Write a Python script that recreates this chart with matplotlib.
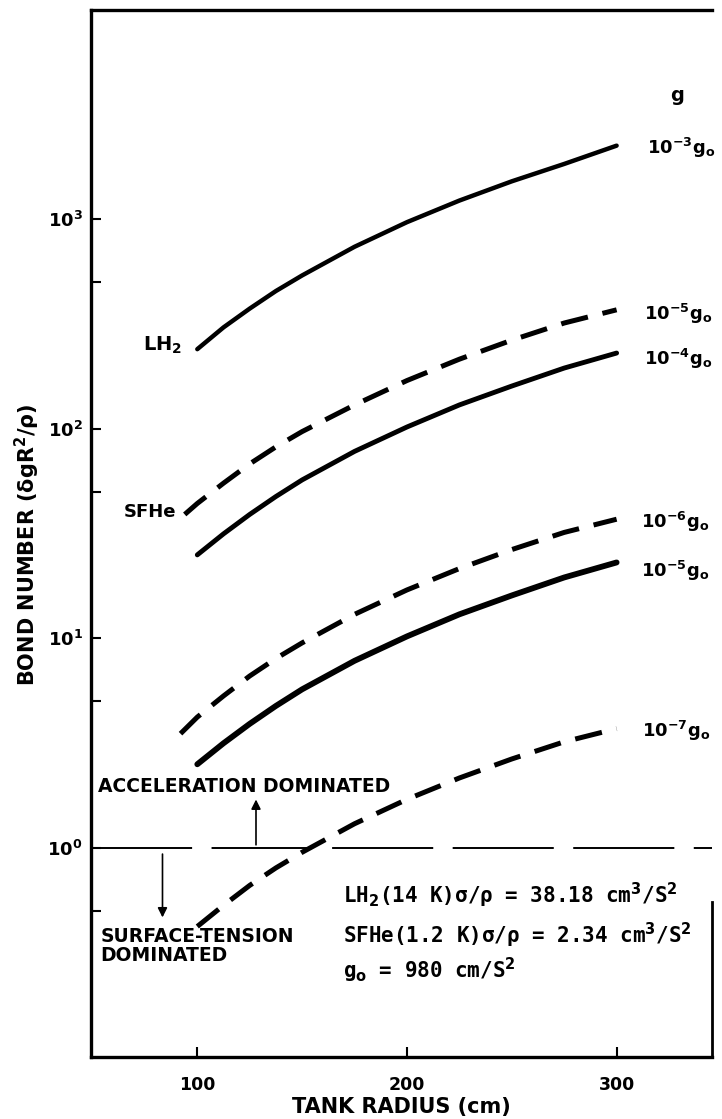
import matplotlib
matplotlib.use("Agg")
import matplotlib.pyplot as plt
from matplotlib.ticker import FixedLocator, NullFormatter

plt.rcParams['font.family'] = ['DejaVu Sans']
plt.rcParams['mathtext.default'] = 'bf'

# ---- data ----
r_lh2 = [100, 112.5, 125, 137.5, 150, 175, 200, 225, 250, 275, 300]
lh2_1e3 = [240, 305, 375, 455, 540, 740, 970, 1230, 1520, 1840, 2250]
lh2_1e4 = [25, 31.5, 39, 47.5, 57, 78, 102, 130, 160, 195, 230]
lh2_1e5 = [2.5, 3.15, 3.9, 4.75, 5.7, 7.8, 10.2, 13, 16, 19.5, 23]

r_sfhe5 = [94, 100, 112.5, 125, 137.5, 150, 175, 200, 225, 250, 275, 300]
sfhe_1e5 = [39, 44, 55, 68, 82, 97, 130, 170, 215, 265, 320, 370]
r_sfhe6 = [92, 100, 112.5, 125, 137.5, 150, 175, 200, 225, 250, 275, 300]
sfhe_1e6 = [3.5, 4.2, 5.3, 6.6, 8.0, 9.5, 13, 17, 21.5, 26.5, 32, 37]
r_sfhe7 = [100, 112.5, 125, 137.5, 150, 175, 200, 225, 250, 275, 300]
sfhe_1e7 = [0.42, 0.53, 0.66, 0.80, 0.95, 1.3, 1.7, 2.15, 2.65, 3.2, 3.7]

x_ticks = [100, 200, 300]
y_major = [1, 10, 100, 1000]
y_major_labels = [r'$10^{0}$', r'$10^{1}$', r'$10^{2}$', r'$10^{3}$']
y_minor = [0.5, 5, 50, 500]

fig = plt.figure(figsize=(7.22, 11.19), dpi=100)
ax = fig.add_axes([91/722, 62/1119, (712-91)/722, 1047/1119])
ax.set_yscale('log')
ax.set_xlim(49.3, 345.5)
ax.set_ylim(0.1, 1e4)

dash_kw = dict(color='black', lw=3.6, linestyle=(0, (5.5, 3.0)), dash_capstyle='butt')

ax.plot(r_lh2, lh2_1e3, color='black', lw=3.2, solid_capstyle='round')
ax.plot(r_lh2, lh2_1e4, color='black', lw=3.5, solid_capstyle='round')
ax.plot(r_lh2, lh2_1e5, color='black', lw=4.2, solid_capstyle='round')
ax.plot(r_sfhe5, sfhe_1e5, **dash_kw)
ax.plot(r_sfhe6, sfhe_1e6, **dash_kw)
ax.plot(r_sfhe7, sfhe_1e7, **dash_kw)

# Bo = 1 boundary
ax.axhline(1.0, color='black', lw=1.4, linestyle=(0, (52, 10)))

# spines / ticks
for s in ['left', 'bottom', 'top']:
    ax.spines[s].set_linewidth(2.4)
ax.spines['right'].set_linewidth(2.0)
ax.spines['right'].set_bounds(0.1, 0.55)

ax.set_xticks(x_ticks)
ax.set_xticklabels([str(v) for v in x_ticks])
ax.yaxis.set_major_locator(FixedLocator(y_major))
ax.set_yticklabels(y_major_labels)
ax.yaxis.set_minor_locator(FixedLocator(y_minor))
ax.yaxis.set_minor_formatter(NullFormatter())
ax.xaxis.set_minor_locator(FixedLocator([]))
ax.tick_params(axis='both', which='both', direction='in', length=7, width=1.5,
               right=False, top=False)
ax.tick_params(axis='y', labelsize=13, pad=6)
ax.tick_params(axis='x', labelsize=12.5, pad=14)
for lab in ax.get_xticklabels() + ax.get_yticklabels():
    lab.set_fontweight('bold')

ax.set_xlabel('TANK RADIUS (cm)', fontsize=15, fontweight='bold', labelpad=2)
fig.text(0.038, 0.513, r'BOND NUMBER ($\delta$gR$^2$/$\rho$)', rotation=90,
         ha='center', va='center', fontsize=15, fontweight='bold')

tk = dict(fontsize=13, fontweight='bold', color='black')
# curve labels
ax.text(329, 3900, 'g', ha='center', va='center', fontsize=14, fontweight='bold')
ax.text(314.5, 2200, r'$10^{-3}$g$_{o}$', ha='left', va='center', **tk)
ax.text(313, 355, r'$10^{-5}$g$_{o}$', ha='left', va='center', **tk)
ax.text(313, 215, r'$10^{-4}$g$_{o}$', ha='left', va='center', **tk)
ax.text(311.5, 36, r'$10^{-6}$g$_{o}$', ha='left', va='center', **tk)
ax.text(311.5, 21, r'$10^{-5}$g$_{o}$', ha='left', va='center', **tk)
ax.text(312, 3.6, r'$10^{-7}$g$_{o}$', ha='left', va='center', **tk)
ax.text(93, 250, r'LH$_2$', ha='right', va='center', fontsize=14, fontweight='bold')
ax.text(90, 40, 'SFHe', ha='right', va='center', **tk)

# region annotations
rk = dict(transform=ax.transAxes, ha='left', va='baseline', fontsize=13.5, fontweight='bold')
ax.text(0.012, 0.253, 'ACCELERATION DOMINATED', **rk)
ax.text(0.015, 0.110, 'SURFACE-TENSION', **rk)
ax.text(0.015, 0.092, 'DOMINATED', **rk)
ax.annotate('', xy=(128, 1.75), xytext=(128, 1.0),
            arrowprops=dict(arrowstyle='-|>', color='black', lw=1.2, mutation_scale=14))
ax.annotate('', xy=(83.4, 0.45), xytext=(83.4, 0.96),
            arrowprops=dict(arrowstyle='-|>', color='black', lw=1.2, mutation_scale=14))

eq_kw = dict(transform=ax.transAxes, ha='left', va='baseline', fontsize=15,
             fontweight='bold', family=['DejaVu Sans Mono'])
ax.text(0.405, 0.147, 'LH$_2$(14 K)σ/ρ = 38.18 cm$^3$/S$^2$', **eq_kw)
ax.text(0.405, 0.109, 'SFHe(1.2 K)σ/ρ = 2.34 cm$^3$/S$^2$', **eq_kw)
ax.text(0.405, 0.0755, 'g$_o$ = 980 cm/S$^2$', **eq_kw)

fig.savefig('out.png', dpi=100)
